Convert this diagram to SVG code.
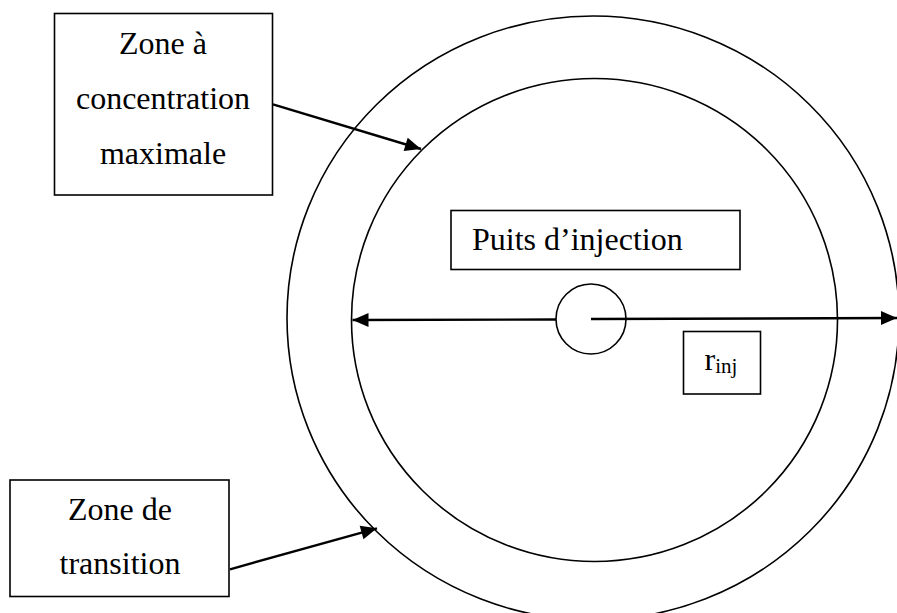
<svg xmlns="http://www.w3.org/2000/svg" width="897" height="613" viewBox="0 0 897 613">
  <style>
    .shape { fill: none; stroke: #000; stroke-width: 1.6; }
    .box { fill: #fff; stroke: #000; stroke-width: 1.6; }
    .lbl { font-family: "Liberation Serif", "Times New Roman", serif; font-size: 32px; fill: #000; }
    .mid { text-anchor: middle; }
    .conn { fill: none; stroke: #000; stroke-width: 2.4; marker-end: url(#arrow); }
  </style>
  <defs>
    <marker id="arrow" markerUnits="userSpaceOnUse" markerWidth="16" markerHeight="14" refX="16" refY="7" orient="auto" overflow="visible">
      <path d="M0,0 L16,7 L0,14 Z" fill="#000"/>
    </marker>
  </defs>
  <rect width="897" height="613" fill="#fff"/>

  <g id="outer-zone">
    <ellipse class="shape" cx="593" cy="318" rx="306" ry="302"/>
  </g>
  <g id="inner-zone">
    <ellipse class="shape" cx="594.5" cy="320" rx="243" ry="241.5"/>
  </g>
  <g id="well">
    <circle class="shape" cx="591" cy="319" r="35"/>
  </g>

  <g id="label-puits">
    <rect class="box" x="451" y="210.5" width="289" height="59"/>
    <text class="lbl" x="472" y="249.5">Puits d’injection</text>
  </g>

  <g id="label-rinj">
    <rect class="box" x="683.5" y="331.5" width="77" height="62.5"/>
    <text class="lbl" x="704.5" y="370">r<tspan font-size="21" dy="2.5">inj</tspan></text>
  </g>

  <g id="label-zone-max">
    <rect class="box" x="54.5" y="13.5" width="218" height="181.5"/>
    <text class="lbl mid" x="163" y="54">Zone à</text>
    <text class="lbl mid" x="163" y="109">concentration</text>
    <text class="lbl mid" x="163" y="164">maximale</text>
  </g>

  <g id="label-zone-transition">
    <rect class="box" x="10" y="480" width="219" height="116.5"/>
    <text class="lbl mid" x="120" y="519.5">Zone de</text>
    <text class="lbl mid" x="120" y="574">transition</text>
  </g>

  <g id="connectors">
    <line class="conn" x1="273" y1="104.3" x2="421" y2="149"/>
    <line class="conn" x1="230" y1="569.3" x2="377" y2="528.3"/>
    <line class="conn" x1="556" y1="319.5" x2="352.5" y2="320"/>
    <line class="conn" x1="591" y1="319" x2="897" y2="318"/>
  </g>
</svg>
